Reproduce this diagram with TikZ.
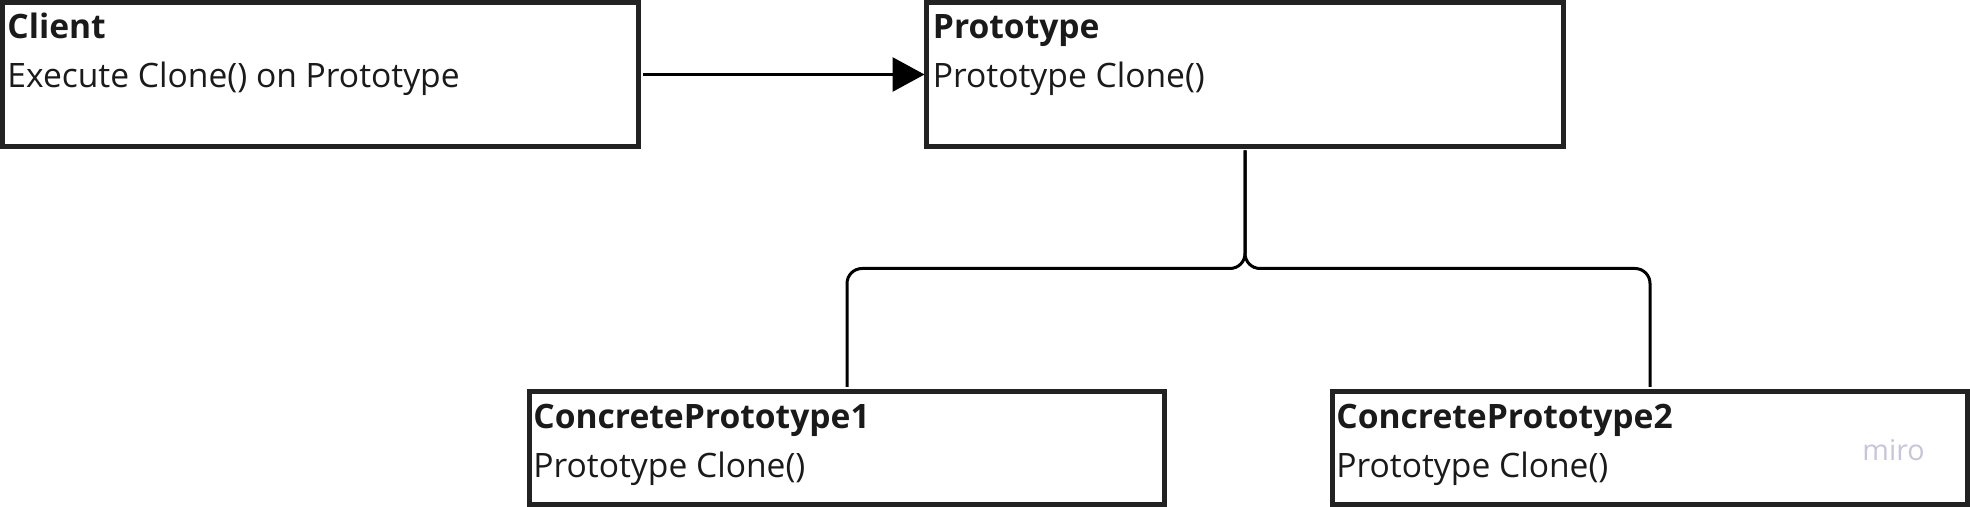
\documentclass[tikz,border=0pt]{standalone}
\usepackage{fontspec}
\setmainfont{Open Sans}
\usetikzlibrary{arrows.meta}
\definecolor{boxline}{HTML}{222222}
\definecolor{txt}{HTML}{1A1A1A}
\definecolor{mirogray}{HTML}{C8C5DA}
\begin{document}
\begin{tikzpicture}[x=0.5pt,y=-0.5pt,
  box/.style={draw=boxline, line width=2.5pt, inner sep=0pt, outer sep=0pt, fill=white},
  bigbox/.style={box, minimum width=318pt, minimum height=72pt},
  smallbox/.style={box, minimum width=317.5pt, minimum height=56.25pt},
  titletext/.style={anchor=base west, inner sep=0pt, text=txt, font=\fontsize{16.8pt}{20pt}\selectfont\bfseries},
  bodytext/.style={anchor=base west, inner sep=0pt, text=txt, font=\fontsize{16.8pt}{20pt}\selectfont},
  conn/.style={draw=black, line width=1.5pt},
  arr/.style={conn, -{Triangle[length=16pt, width=17pt]}}
]
\useasboundingbox (0,0) rectangle (1970,507);

\node[bigbox] (client) at (320.5,74.5) {};
\node[bigbox, minimum width=318.5pt] (proto) at (1245,74.5) {};
\node[smallbox] (cp1) at (847,448.25) {};
\node[smallbox] (cp2) at (1650,448.25) {};

\node[titletext] (clientT) at (7,39) {Client};
\node[bodytext] (clientB) at (7,88) {Execute Clone() on Prototype};
\node[titletext] (protoT) at (932.5,39) {Prototype};
\node[bodytext] (protoB) at (932.5,88) {Prototype Clone()};
\node[titletext] (cp1T) at (533,428.5) {ConcretePrototype1};
\node[bodytext] (cp1B) at (533,477.5) {Prototype Clone()};
\node[titletext] (cp2T) at (1336,428.5) {ConcretePrototype2};
\node[bodytext] (cp2B) at (1336,477.5) {Prototype Clone()};
\node[anchor=base west, inner sep=0pt, text=mirogray, font=\fontsize{14.3pt}{16pt}\selectfont] (miro) at (1862,460) {miro};

\draw[arr, shorten <=2.25pt, shorten >=1pt] (client.east) -- (proto.west);

\draw[conn, rounded corners=7.5pt, shorten <=2pt, shorten >=2.5pt] (proto.south) -- ++(0,122) -| (cp1.north);
\draw[conn, rounded corners=7.5pt, shorten <=2pt, shorten >=2.5pt] (proto.south) -- ++(0,122) -| (cp2.north);
\end{tikzpicture}
\end{document}
